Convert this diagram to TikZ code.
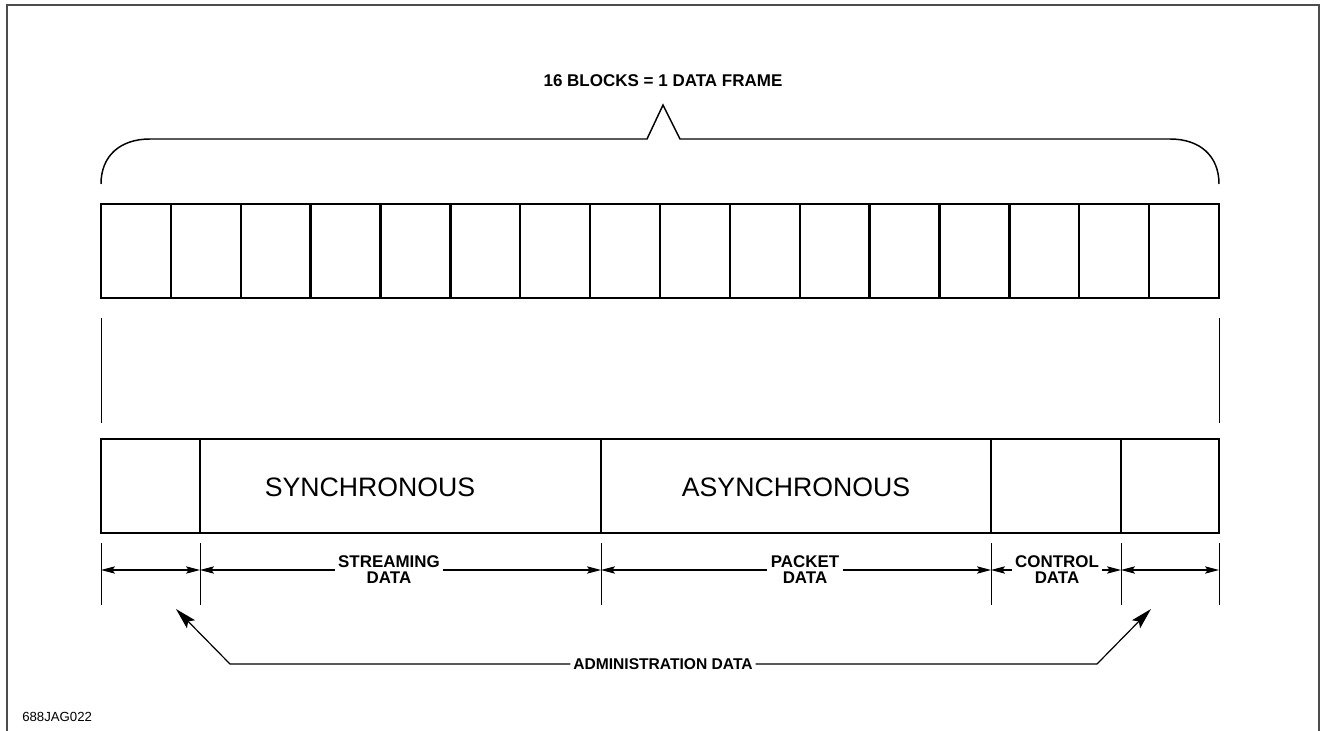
\documentclass[tikz,border=0pt]{standalone}
\usepackage{fontspec}
\setmainfont{Liberation Sans}
\usetikzlibrary{arrows.meta,positioning}

\tikzset{
  blk/.style={draw, line width=1.8pt, minimum height=70.5pt, inner sep=0pt, outer sep=0pt, anchor=north west},
  extline/.style={line width=0.75pt},
  dimarrow/.style={line width=0.8pt, {Stealth[length=10.5pt,width=5.5pt,inset=2pt]}-{Stealth[length=10.5pt,width=5.5pt,inset=2pt]}},
  halfarrow/.style={line width=0.8pt, -{Stealth[length=10.5pt,width=5.5pt,inset=2pt]}},
  bigarrow/.style={line width=0.9pt, -{Stealth[length=16pt,width=8.5pt,inset=3pt]}},
  lbl/.style={font=\fontsize{12.7}{12}\selectfont\bfseries, align=center, inner xsep=2.5pt, inner ysep=1pt},
}

\begin{document}
\begin{tikzpicture}[x=0.75pt,y=-0.75pt]
    \useasboundingbox (0,0) rectangle (1321,731);
    % outer frame
    \draw[black!70, line width=1.5pt] (7,760) -- (7,5) -- (1319,5) -- (1319,760);

    % title with brace
    \node[font=\fontsize{12.75}{14}\selectfont\bfseries] (title) at (663,81) {16 BLOCKS = 1 DATA FRAME};
    \draw[line width=1.1pt] (101,184) .. controls (101,156) and (120,139) .. (150,139)
        -- (647,139) -- (663,105) -- (680,139) -- (1170,139)
        .. controls (1200,139) and (1219,156) .. (1219,184);

    % 16 blocks of one frame
    \foreach \i in {1,...,16} {
        \pgfmathsetmacro{\bx}{101+(\i-1)*69.875}
        \node[blk, minimum width=52.4pt] (b\i) at (\bx,204) {};
    }
    \draw[extline] ([yshift=-15pt]b1.south west) -- ++(0,105);
    \draw[extline] ([yshift=-15pt]b16.south east) -- ++(0,105);

    % frame split by content
    \node[blk, minimum width=74.25pt] (s1) at (101,439) {};
    \node[blk, minimum width=300.75pt] (s2) at (s1.north east) {};
    \node[blk, minimum width=292.5pt] (s3) at (s2.north east) {};
    \node[blk, minimum width=97.5pt] (s4) at (s3.north east) {};
    \node[blk, minimum width=73.5pt] (s5) at (s4.north east) {};
    \node[font=\fontsize{20}{24}\selectfont] (sync) at (370,487) {SYNCHRONOUS};
    \node[font=\fontsize{20}{24}\selectfont] (async) at (796,487) {ASYNCHRONOUS};

    % dimension lines
    \foreach \n/\x in {0/101,1/200,2/601,3/991,4/1121,5/1219} {
        \draw[extline] (\x,543) -- (\x,605);
        \coordinate (d\n) at (\x,570);
    }
    \draw[dimarrow] (d0) -- (d1);
    \node[lbl] (strm) at (389,570) {STREAMING\\DATA};
    \draw[halfarrow] (strm.west) -- (d1);
    \draw[halfarrow] (strm.east) -- (d2);
    \node[lbl] (pkt) at (805,570) {PACKET\\DATA};
    \draw[halfarrow] (pkt.west) -- (d2);
    \draw[halfarrow] (pkt.east) -- (d3);
    \node[lbl] (ctrl) at (1057,570) {CONTROL\\DATA};
    \draw[halfarrow] (ctrl.west) -- (d3);
    \draw[halfarrow] (ctrl.east) -- (d4);
    \draw[dimarrow] (d4) -- (d5);

    % administration data
    \node[font=\fontsize{11.7}{14}\selectfont\bfseries, inner xsep=2pt] (adm) at (663,664) {ADMINISTRATION DATA};
    \coordinate (admL) at (176,609);
    \coordinate (admR) at (1151,609);
    \draw[bigarrow] (adm.west) -- (230,664) -- (admL);
    \draw[bigarrow] (adm.east) -- (1097,664) -- (admR);

    \node[font=\fontsize{9.9}{12}\selectfont, anchor=west, inner sep=0pt] (fig) at (22,717) {688JAG022};
\end{tikzpicture}
\end{document}
